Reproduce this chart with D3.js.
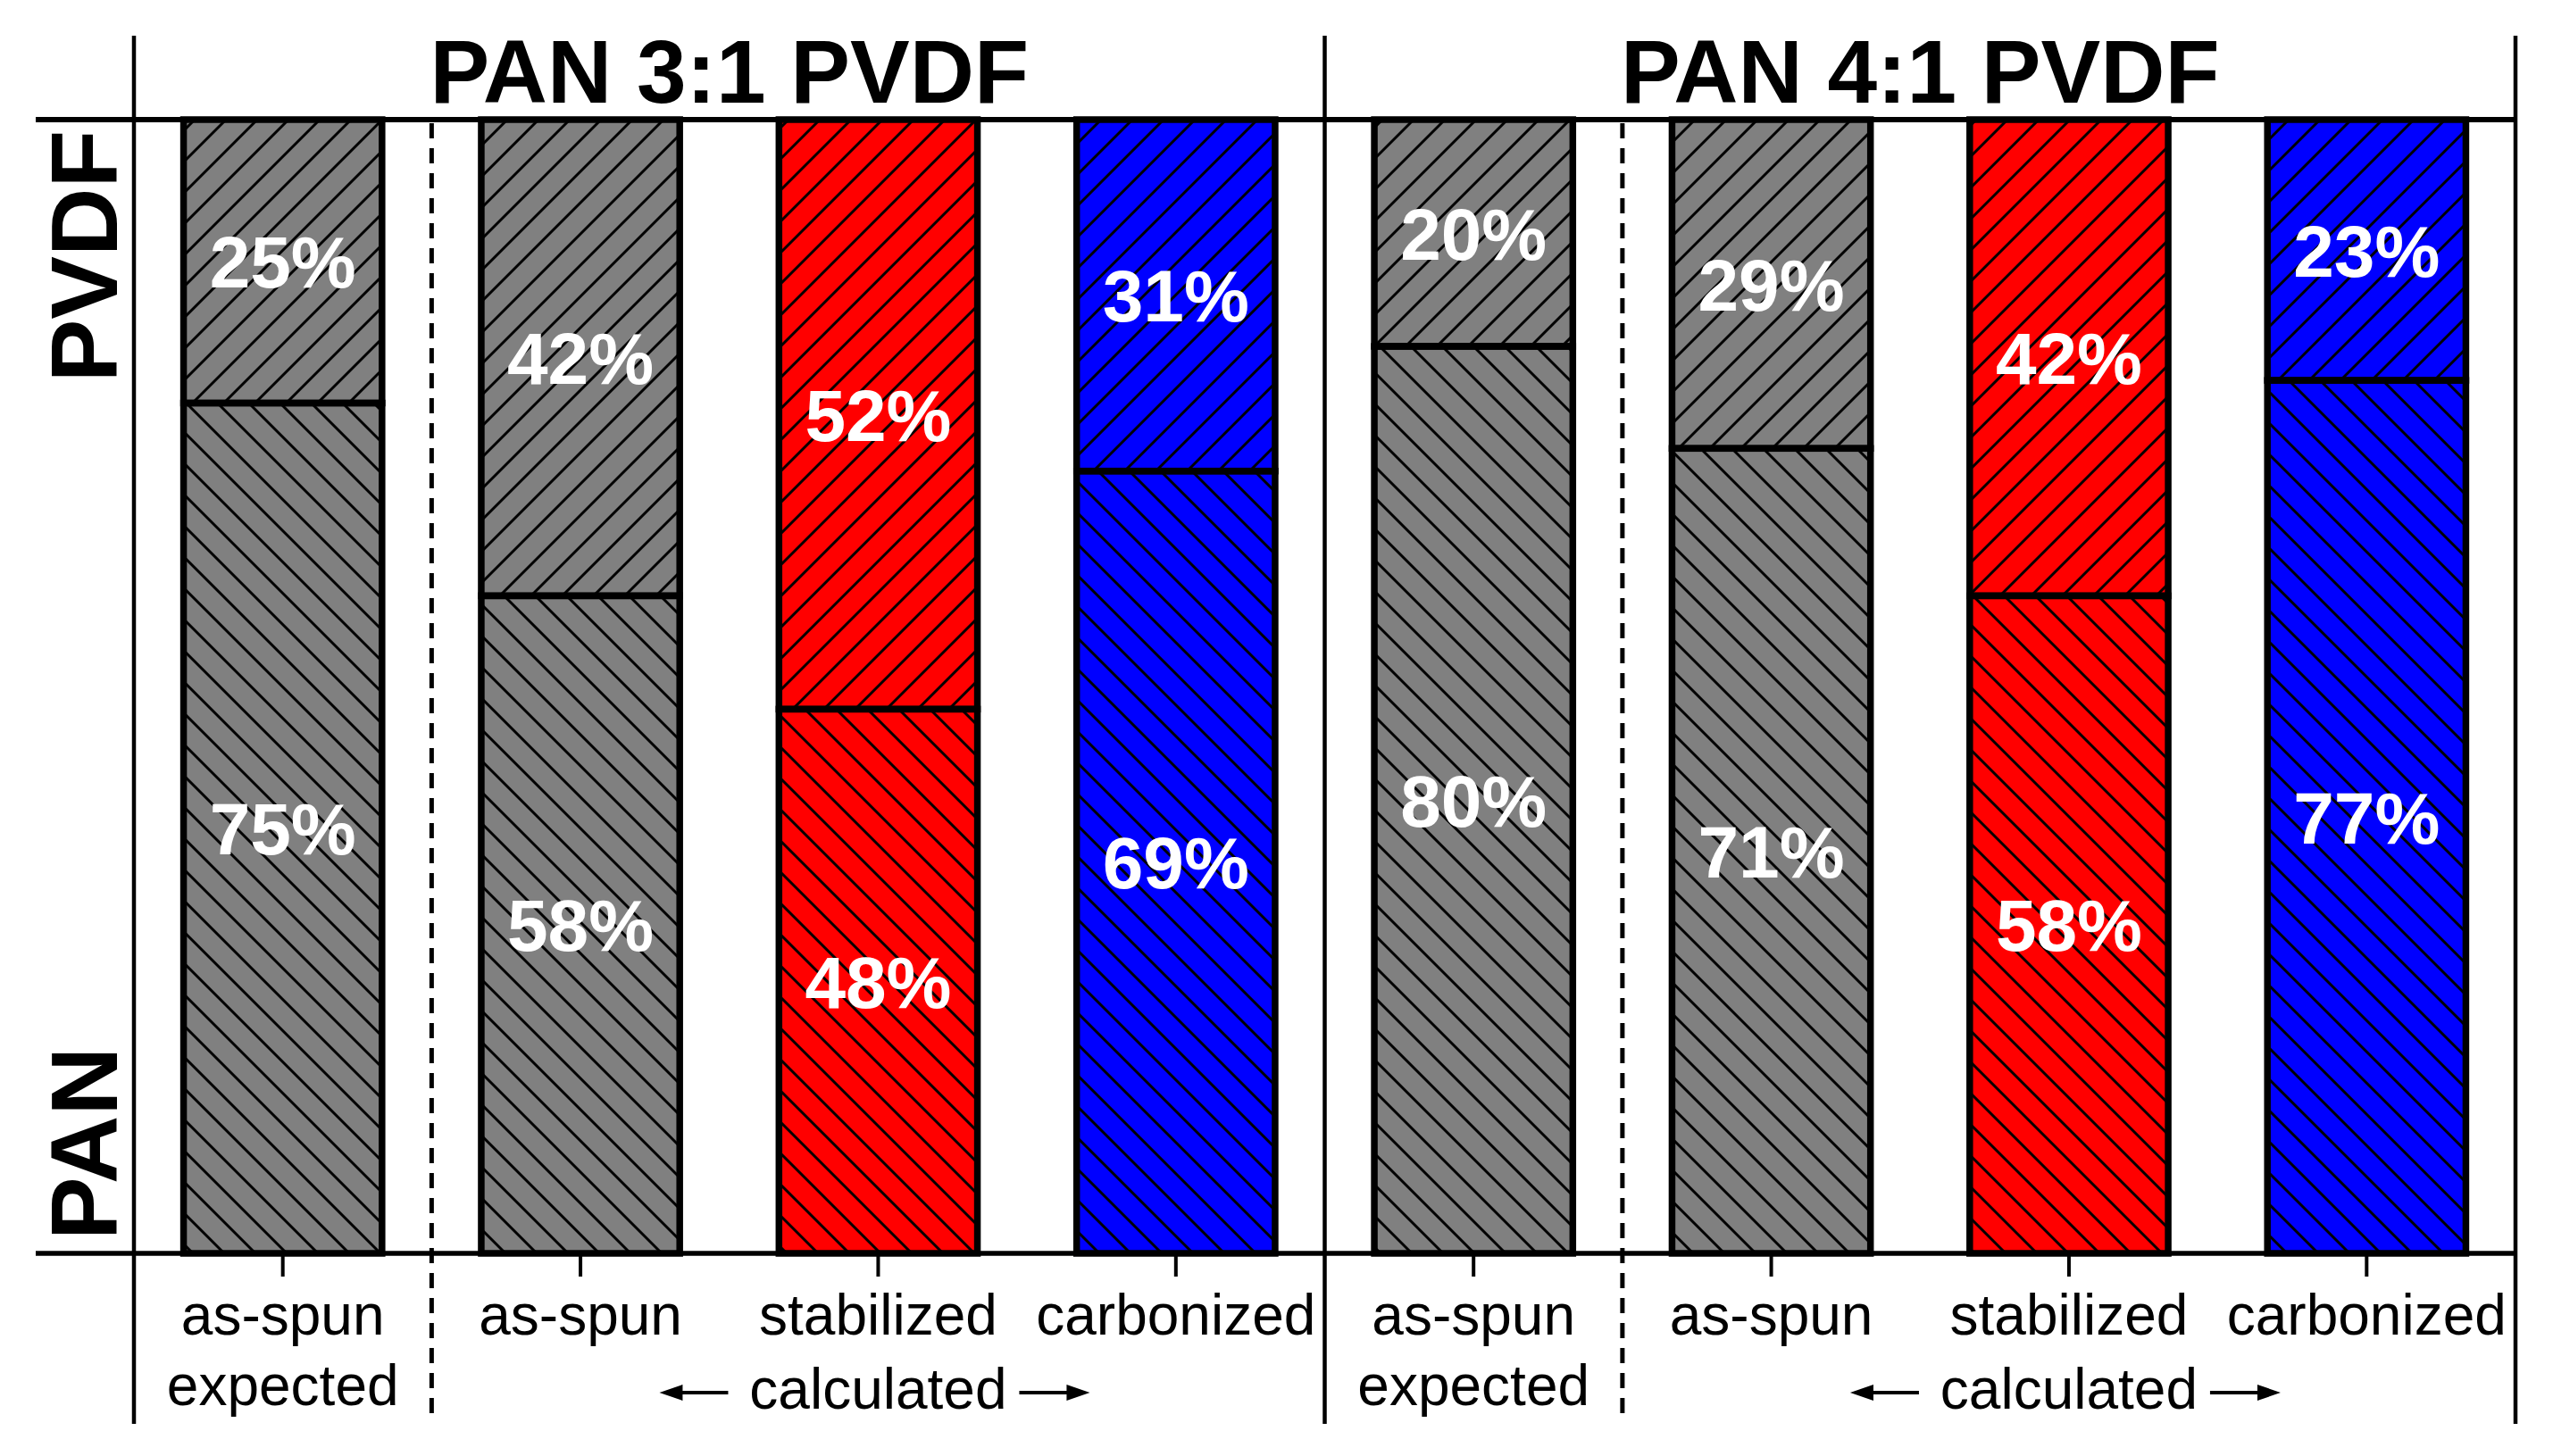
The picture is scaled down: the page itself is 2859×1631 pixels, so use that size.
<!DOCTYPE html>
<html>
<head>
<meta charset="utf-8">
<script src="https://cdn.jsdelivr.net/npm/d3@7"></script>
<style>
  html, body { margin: 0; padding: 0; background: #ffffff; }
  svg { display: block; }
</style>
</head>
<body>
<svg id="chart" width="2859" height="1631"></svg>
<script>
// ---------------- data ----------------
const groupTitles = ["PAN 3:1 PVDF", "PAN 4:1 PVDF"];
const stages = ["as-spun expected", "as-spun", "stabilized", "carbonized"];
const tickLabelLines = [["as-spun", "expected"], ["as-spun"], ["stabilized"], ["carbonized"]];
const panValues  = [75, 58, 48, 69, 80, 71, 58, 77];
const pvdfValues = [25, 42, 52, 31, 20, 29, 42, 23];
const seriesNames = ["PAN", "PVDF"];
const calculatedLabel = "calculated";

// ---------------- style ----------------
const stageColor = {
  "as-spun expected": "#808080",
  "as-spun": "#808080",
  "stabilized": "#ff0000",
  "carbonized": "#0000ff"
};
const FONT = "'Liberation Sans', Arial, Helvetica, sans-serif";

// ---------------- build rows ----------------
const rows = [];
groupTitles.forEach((g, gi) => {
  stages.forEach((s, si) => {
    const i = gi * stages.length + si;
    rows.push({ key: g + "|" + s, group: g, gi, stage: s, si, pan: panValues[i], pvdf: pvdfValues[i] });
  });
});

const svg = d3.select("#chart");
const plotLeft = 150, plotRight = 2817, plotTop = 134, plotBottom = 1404;
const frameTop = 40, frameBottom = 1595, axisLeft = 40;

const x = d3.scaleBand().domain(rows.map(d => d.key)).range([plotLeft, plotRight])
  .paddingInner(1 / 3).paddingOuter(1 / 6);
const y = d3.scaleLinear().domain([0, 100]).range([plotBottom, plotTop]);
const bw = x.bandwidth();

// ---------------- patterns ----------------
const defs = svg.append("defs");
function hatch(id, angle) {
  const sp = 35 / Math.SQRT2;
  const p = defs.append("pattern").attr("id", id)
    .attr("patternUnits", "userSpaceOnUse")
    .attr("width", sp).attr("height", sp)
    .attr("patternTransform", `rotate(${angle})`);
  p.append("rect").attr("x", 0).attr("y", 0).attr("width", 3).attr("height", sp).attr("fill", "#000");
}
hatch("hatchUp", 45);     // "/" lines -> PVDF
hatch("hatchDown", -45);  // "\" lines -> PAN

// ---------------- bars ----------------
const barG = svg.append("g");
const segs = [];
rows.forEach(d => {
  segs.push({ d, series: "PAN", y0: 0, y1: d.pan, value: d.pan, pattern: "hatchDown" });
  segs.push({ d, series: "PVDF", y0: d.pan, y1: d.pan + d.pvdf, value: d.pvdf, pattern: "hatchUp" });
});

barG.selectAll("rect.base").data(segs).join("rect").attr("class", "base")
  .attr("x", s => x(s.d.key)).attr("width", bw)
  .attr("y", s => y(s.y1)).attr("height", s => y(s.y0) - y(s.y1))
  .attr("fill", s => stageColor[s.d.stage]);
barG.selectAll("rect.hatch").data(segs).join("rect").attr("class", "hatch")
  .attr("x", s => x(s.d.key)).attr("width", bw)
  .attr("y", s => y(s.y1)).attr("height", s => y(s.y0) - y(s.y1))
  .attr("fill", s => `url(#${s.pattern})`);
barG.selectAll("rect.outline").data(segs).join("rect").attr("class", "outline")
  .attr("x", s => x(s.d.key)).attr("width", bw)
  .attr("y", s => y(s.y1)).attr("height", s => y(s.y0) - y(s.y1))
  .attr("fill", "none").attr("stroke", "#000").attr("stroke-width", 7.5);

barG.selectAll("text.val").data(segs).join("text").attr("class", "val")
  .attr("x", s => x(s.d.key) + bw / 2)
  .attr("y", s => y((s.y0 + s.y1) / 2))
  .attr("dy", "0.36em")
  .attr("text-anchor", "middle")
  .attr("font-family", FONT).attr("font-weight", "bold").attr("font-size", 82)
  .attr("fill", "#fff")
  .text(s => s.value + "%");

// ---------------- frame lines ----------------
const frame = svg.append("g").attr("stroke", "#000");
frame.append("line").attr("x1", axisLeft).attr("x2", plotRight).attr("y1", y(100)).attr("y2", y(100)).attr("stroke-width", 6);
frame.append("line").attr("x1", axisLeft).attr("x2", plotRight).attr("y1", y(0)).attr("y2", y(0)).attr("stroke-width", 5.5);
const groupBounds = [plotLeft, (x(rows[3].key) + bw + x(rows[4].key)) / 2, plotRight];
groupBounds.forEach(gx => {
  frame.append("line").attr("x1", gx).attr("x2", gx).attr("y1", frameTop).attr("y2", frameBottom).attr("stroke-width", 4.5);
});
// dashed separators between "expected" and "calculated"
groupTitles.forEach((g, gi) => {
  const a = rows[gi * 4], b = rows[gi * 4 + 1];
  const dx = (x(a.key) + bw + x(b.key)) / 2;
  frame.append("line").attr("x1", dx).attr("x2", dx).attr("y1", y(100) + 4).attr("y2", frameBottom - 6)
    .attr("stroke-width", 5).attr("stroke-dasharray", "17,11");
});

// ---------------- bottom axis ticks ----------------
const axis = svg.append("g").attr("transform", `translate(0,${y(0)})`)
  .call(d3.axisBottom(x).tickSize(26).tickFormat(() => ""));
axis.select(".domain").remove();
axis.selectAll(".tick line").attr("stroke", "#000").attr("stroke-width", 4);

// tick labels
const lab = svg.append("g").attr("font-family", FONT).attr("font-size", 64).attr("fill", "#000").attr("text-anchor", "middle");
rows.forEach(d => {
  const lines = tickLabelLines[d.si];
  lines.forEach((t, li) => {
    lab.append("text").attr("x", x(d.key) + bw / 2).attr("y", 1495 + li * 79).text(t);
  });
});

// "← calculated →"
groupTitles.forEach((g, gi) => {
  const c = x(rows[gi * 4 + 2].key) + bw / 2;
  lab.append("text").attr("x", c).attr("y", 1578).text(calculatedLabel);
  const ay = 1560;
  const arrows = [[c - 168, c - 245], [c + 158, c + 237]];
  arrows.forEach(([tail, tip]) => {
    const dir = Math.sign(tip - tail);
    const head = 26;
    svg.append("line").attr("x1", tail).attr("x2", tip - dir * head + dir * 2).attr("y1", ay).attr("y2", ay)
      .attr("stroke", "#000").attr("stroke-width", 4);
    svg.append("path")
      .attr("d", `M${tip},${ay} L${tip - dir * head},${ay - 9} L${tip - dir * head},${ay + 9} Z`)
      .attr("fill", "#000");
  });
});

// ---------------- group titles ----------------
groupTitles.forEach((g, gi) => {
  const cx = (x(rows[gi * 4].key) + x(rows[gi * 4 + 3].key) + bw) / 2;
  svg.append("text").attr("x", cx).attr("y", 115).attr("text-anchor", "middle")
    .attr("font-family", FONT).attr("font-weight", "bold").attr("font-size", 100)
    .attr("fill", "#000").text(g);
});

// ---------------- series labels (rotated) ----------------
const serPos = { "PVDF": 287, "PAN": 1281 };
seriesNames.forEach(n => {
  svg.append("text").attr("transform", `translate(131,${serPos[n]}) rotate(-90)`)
    .attr("text-anchor", "middle")
    .attr("font-family", FONT).attr("font-weight", "bold").attr("font-size", 106)
    .attr("fill", "#000").text(n);
});
</script>
</body>
</html>
